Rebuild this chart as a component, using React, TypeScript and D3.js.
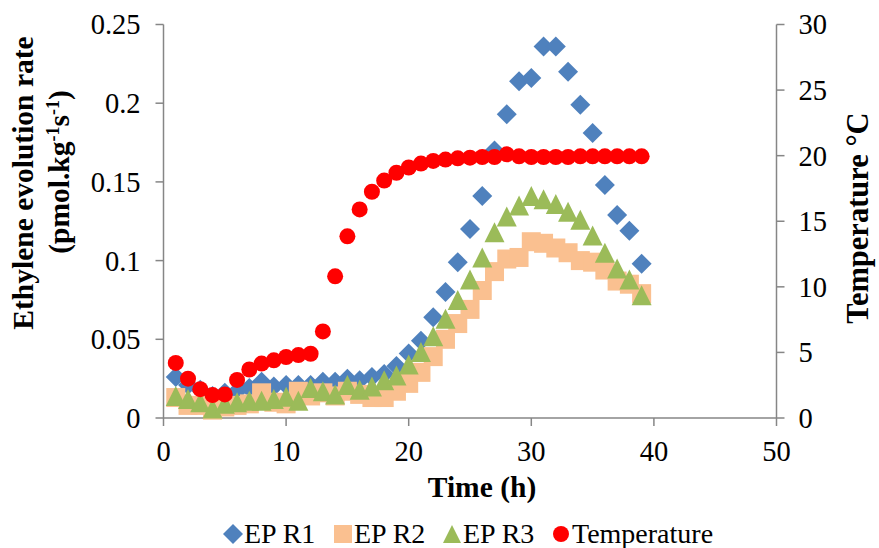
import React from "react";
import * as d3 from "d3";

const hours = [1,2,3,4,5,6,7,8,9,10,11,12,13,14,15,16,17,18,19,20,21,22,23,24,25,26,27,28,29,30,31,32,33,34,35,36,37,38,39];
const epR1 = [0.026,0.021,0.018,0.014,0.016,0.017,0.019,0.023,0.020,0.021,0.021,0.021,0.023,0.023,0.025,0.024,0.026,0.028,0.033,0.041,0.049,0.064,0.080,0.099,0.120,0.141,0.170,0.193,0.214,0.216,0.236,0.236,0.220,0.199,0.181,0.148,0.129,0.119,0.098];
const epR2 = [0.013,0.008,0.008,0.005,0.007,0.008,0.009,0.016,0.010,0.009,0.017,0.014,0.016,0.014,0.017,0.015,0.013,0.013,0.017,0.022,0.029,0.039,0.050,0.060,0.069,0.081,0.093,0.101,0.102,0.112,0.111,0.108,0.105,0.100,0.099,0.094,0.087,0.085,0.079];
const epR3 = [0.014,0.012,0.010,0.006,0.009,0.010,0.011,0.011,0.012,0.0135,0.011,0.019,0.017,0.015,0.021,0.018,0.020,0.024,0.027,0.034,0.042,0.052,0.063,0.075,0.088,0.102,0.118,0.128,0.135,0.141,0.139,0.136,0.131,0.126,0.116,0.105,0.095,0.088,0.078];
const temperature = [4.2,3.0,2.2,1.75,1.8,2.9,3.7,4.15,4.4,4.65,4.8,4.9,6.6,10.8,13.85,15.9,17.25,18.1,18.7,19.1,19.4,19.6,19.7,19.8,19.85,19.9,19.9,20.1,19.95,19.9,19.9,19.9,19.9,19.95,19.95,19.95,19.95,19.95,19.95];

const xTicks = [0,10,20,30,40,50];
const yLeftTicks = [0,0.05,0.1,0.15,0.2,0.25];
const yRightTicks = [0,5,10,15,20,25,30];
const legendLabels = ["EP R1","EP R2","EP R3","Temperature"];

const W = 879, H = 548;
const L = 163.5, R = 776.5, T = 24.5, B = 418;
const FONT = "'Liberation Serif','Times New Roman',serif";
const AXIS = "#868686";
const C1 = "#4F81BD", C2 = "#FAC090", C3 = "#9BBB59", C4 = "#FF0000";

const x = d3.scaleLinear().domain([0, 50]).range([L, R]);
const yL = d3.scaleLinear().domain([0, 0.25]).range([B, T]);
const yR = d3.scaleLinear().domain([0, 30]).range([B, T]);

function marker(kind: number, cx: number, cy: number, key: string) {
  if (kind === 0) {
    const s = 10;
    return <path key={key} d={`M${cx},${cy - s}L${cx + s},${cy}L${cx},${cy + s}L${cx - s},${cy}Z`} fill={C1} />;
  }
  if (kind === 1) {
    const s = 9.5;
    return <rect key={key} x={cx - s} y={cy - s} width={2 * s} height={2 * s} fill={C2} />;
  }
  if (kind === 2) {
    const w = 10, h = 10;
    return <path key={key} d={`M${cx},${cy - h}L${cx + w},${cy + h}L${cx - w},${cy + h}Z`} fill={C3} />;
  }
  return <circle key={key} cx={cx} cy={cy} r={8} fill={C4} />;
}

export default function App() {
  const fmtL = (v: number) => (v === 0 ? "0" : String(v));
  const legendX = [233, 343, 452, 561];
  const legendY = 534;
  return (
    <svg width={W} height={H} style={{ position: "absolute", left: 0, top: 0, background: "#fff" }} fontFamily={FONT}>
      <rect x={0} y={0} width={W} height={H} fill="#fff" />
      {/* axes */}
      <line x1={L} x2={L} y1={T} y2={B} stroke={AXIS} strokeWidth={1.5} />
      <line x1={R} x2={R} y1={T} y2={B} stroke={AXIS} strokeWidth={1.5} />
      <line x1={L} x2={R} y1={B} y2={B} stroke={AXIS} strokeWidth={1.5} />
      {yLeftTicks.map((v) => (
        <g key={"yl" + v}>
          <line x1={L - 8} x2={L} y1={yL(v)} y2={yL(v)} stroke={AXIS} strokeWidth={1.5} />
          <text x={L - 23} y={yL(v)} dy="0.35em" textAnchor="end" fontSize={28.5}>{fmtL(v)}</text>
        </g>
      ))}
      {yRightTicks.map((v) => (
        <g key={"yr" + v}>
          <line x1={R} x2={R + 8} y1={yR(v)} y2={yR(v)} stroke={AXIS} strokeWidth={1.5} />
          <text x={R + 22} y={yR(v)} dy="0.35em" textAnchor="start" fontSize={28.5}>{v}</text>
        </g>
      ))}
      {xTicks.map((v) => (
        <g key={"x" + v}>
          <line x1={x(v)} x2={x(v)} y1={B} y2={B + 8} stroke={AXIS} strokeWidth={1.5} />
          <text x={x(v)} y={461} textAnchor="middle" fontSize={28.5}>{v}</text>
        </g>
      ))}
      {/* titles */}
      <text x={(L + R) / 2 + 12} y={497} textAnchor="middle" fontSize={29.5} fontWeight="bold">Time (h)</text>
      <text transform={`translate(33,183) rotate(-90)`} textAnchor="middle" fontSize={29.5} fontWeight="bold">Ethylene evolution rate</text>
      <text transform={`translate(69,172) rotate(-90)`} textAnchor="middle" fontSize={29.5} fontWeight="bold">
        (pmol.kg<tspan dy="-10" fontSize={18}>-1</tspan><tspan dy="10">s</tspan><tspan dy="-10" fontSize={18}>-1</tspan><tspan dy="10">)</tspan>
      </text>
      <text transform={`translate(868,218) rotate(-90)`} textAnchor="middle" fontSize={30.5} fontWeight="bold">Temperature °C</text>
      {/* data */}
      <g>{hours.map((h, i) => marker(0, x(h), yL(epR1[i]), "a" + i))}</g>
      <g>{hours.map((h, i) => marker(1, x(h), yL(epR2[i]), "b" + i))}</g>
      <g>{hours.map((h, i) => marker(2, x(h), yL(epR3[i]), "c" + i))}</g>
      <g>{hours.map((h, i) => marker(3, x(h), yR(temperature[i]), "d" + i))}</g>
      {/* legend */}
      {legendLabels.map((lab, i) => (
        <g key={lab}>
          {i === 0 && <path d={`M${legendX[i]},${legendY - 10}L${legendX[i] + 10},${legendY}L${legendX[i]},${legendY + 10}L${legendX[i] - 10},${legendY}Z`} fill={C1} />}
          {i === 1 && <rect x={legendX[i] - 9} y={legendY - 9} width={18} height={18} fill={C2} />}
          {i === 2 && <path d={`M${legendX[i]},${legendY - 9}L${legendX[i] + 9},${legendY + 9}L${legendX[i] - 9},${legendY + 9}Z`} fill={C3} />}
          {i === 3 && <circle cx={legendX[i]} cy={legendY} r={8} fill={C4} />}
          <text x={legendX[i] + 11} y={legendY + 9} fontSize={28}>{lab}</text>
        </g>
      ))}
    </svg>
  );
}
